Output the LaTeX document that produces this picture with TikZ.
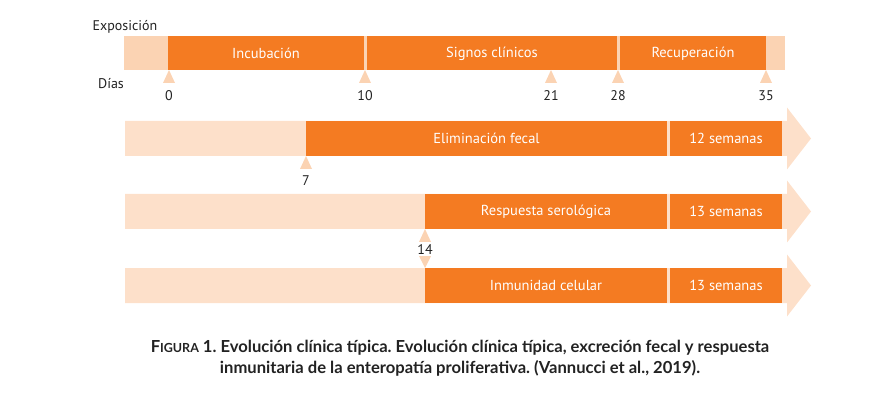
\documentclass[tikz,border=0pt]{standalone}
\usepackage{fontspec}
\setmainfont{PT Sans}
\newfontfamily\capfont{Lato}
\definecolor{org}{HTML}{F47B22}
\definecolor{pch}{HTML}{FBD3B3}
\definecolor{pcl}{HTML}{FDE0CA}
\definecolor{numc}{HTML}{222222}
\frenchspacing
\begin{document}
\begin{tikzpicture}[x=1pt,y=-1pt,
  seg/.style={fill=org, text=white, font=\fontsize{14.5}{16}\selectfont, inner sep=0pt, draw=none},
  tri/.style={fill=pch, draw=none},
  num/.style={font=\fontsize{14}{16}\selectfont, text=numc, inner sep=0pt},
  lab/.style={font=\fontsize{14}{16}\selectfont, text=numc, inner sep=0pt},
  bg/.style={fill=pcl, draw=none}]
\useasboundingbox (0,0) rectangle (881,398);

% top timeline
\fill[pch] (124,36) rectangle (785,70);
\node[seg, minimum width=196pt, minimum height=34pt] (inc) at (266,53.5) {Incubación};
\node[seg, minimum width=250pt, minimum height=34pt] (sig) at (492,53.5) {Signos clínicos};
\node[seg, minimum width=146pt, minimum height=34pt] (rec) at (693,53.5) {Recuperación};
\node[lab] (expo) at (125,27) {Exposición};
\node[lab] (dias) at (111,84) {Días};
\foreach \x/\n in {169/0,365/10,551/21,618/28,766/35}{
  \fill[tri] (\x,70) -- (\x+6,83) -- (\x-6,83) -- cycle;
  \node[num] (d\n) at (\x,96) {\n};
}

% row 1
\fill[bg] (125,121) -- (787,121) -- (787,107.5) -- (811,138.5) -- (787,169.5) -- (787,156) -- (125,156) -- cycle;
\node[seg, minimum width=361pt, minimum height=35pt] (elim) at (486.5,138.5) {Eliminación fecal};
\node[seg, minimum width=112pt, minimum height=35pt] (s12) at (726,138.5) {12 semanas};
\fill[tri] (306,156) -- (312,169) -- (300,169) -- cycle;
\node[num] (d7) at (306,181) {7};

% row 2
\fill[bg] (125,194) -- (787,194) -- (787,180.5) -- (811,211.5) -- (787,242.5) -- (787,229) -- (125,229) -- cycle;
\node[seg, minimum width=242pt, minimum height=35pt] (sero) at (546,211.5) {Respuesta serológica};
\node[seg, minimum width=112pt, minimum height=35pt] (s13a) at (726,211.5) {13 semanas};

% row 3
\fill[bg] (125,268) -- (787,268) -- (787,254.5) -- (811,285.5) -- (787,316.5) -- (787,303) -- (125,303) -- cycle;
\node[seg, minimum width=242pt, minimum height=35pt] (inmu) at (546,285.5) {Inmunidad celular};
\node[seg, minimum width=112pt, minimum height=35pt] (s13b) at (726,285.5) {13 semanas};

\fill[tri] (425,229) -- (431,242) -- (419,242) -- cycle;
\fill[tri] (425,268) -- (431,256) -- (419,256) -- cycle;
\node[num, fill=white, inner sep=1pt] (d14) at (425,250) {14};

% caption
\node[font=\capfont\bfseries\fontsize{16.6}{20.5}\selectfont, align=center, text=numc, inner sep=0pt] (cap) at (460,358)
 {F{\fontsize{12.5}{20.5}\selectfont IGURA} 1. Evolución clínica típica. Evolución clínica típica, excreción fecal y respuesta\\
  inmunitaria de la enteropatía proliferativa. (Vannucci et al., 2019).};
\end{tikzpicture}
\end{document}
